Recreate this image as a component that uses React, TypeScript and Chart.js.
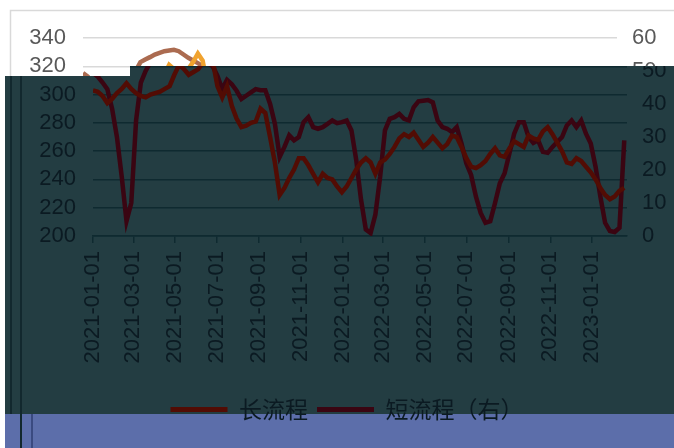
import React, { useEffect, useRef } from "react";
import { Chart, registerables } from "chart.js";

Chart.register(...registerables);

// ---------- data ----------
const START_DATE = "2021-01-01"; // weekly series, one point every 7 days
const AXIS_END_DAYS = 781;
const seriesNames = ["长流程", "短流程（右）"];
const tickLabels = [
  "2021-01-01", "2021-03-01", "2021-05-01", "2021-07-01", "2021-09-01", "2021-11-01",
  "2022-01-01", "2022-03-01", "2022-05-01", "2022-07-01", "2022-09-01", "2022-11-01",
  "2023-01-01",
];
const leftTicks = [200, 220, 240, 260, 280, 300, 320, 340];
const rightTicks = [0, 10, 20, 30, 40, 50, 60];

const longValues = [
  303, 302, 299, 294, 297, 301, 304, 308, 304, 301, 299, 298, 300, 301, 302, 304,
  306, 314, 321, 318, 314, 316, 318, 323, 329, 324, 306, 298, 306, 292, 283, 277,
  278, 280, 281, 290, 287, 270, 252, 229, 234, 241, 247, 255, 255, 250, 244, 238,
  244, 241, 240, 235, 231, 235, 241, 247, 252, 255, 252, 244, 252, 254, 258, 263,
  269, 272, 270, 273, 268, 263, 266, 270, 266, 262, 265, 271, 270, 263, 255, 249,
  248, 250, 253, 258, 262, 257, 256, 262, 267, 265, 263, 271, 269, 268, 274, 277,
  272, 266, 260, 252, 251, 255, 253, 249, 245, 240, 234, 229, 226, 228, 232, 234,
];
const shortValues = [
  49.4, 48.3, 46.5, 44.5, 38.5, 30, 18, 4.5, 10, 35, 46.5, 50, 52.7, 53.5, 54.2, 55,
  55.5, 56, 56.2, 56.4, 56, 55, 54, 53.2, 52.4, 51.5, 48.5, 44.5, 47.3, 46, 44, 41.5,
  42.5, 43.5, 44.5, 44.2, 44.2, 40, 34, 24, 27, 30.5, 29, 30, 34.5, 36, 33, 32.5,
  33, 34, 35, 34.2, 34.5, 35, 32, 23, 11, 2, 0.9, 6.5, 18, 32, 35.5, 36,
  37, 35.5, 35, 39, 40.8, 41, 41.2, 40.5, 35, 33, 32.5, 31.5, 33, 28, 22, 18.5,
  12, 7, 4, 4.5, 10, 16, 19, 25, 31, 34.5, 34.5, 30, 28.2, 29, 25.5, 25.2,
  27, 28.5, 30, 33.5, 35, 33, 35, 31, 28, 21, 12, 4, 1.5, 1.2, 2.5, 29,
];

// ---------- helpers ----------
const DAY = 86400000;
const startMs = Date.parse(START_DATE + "T00:00:00Z");
const dayOf = (s: string) => Math.round((Date.parse(s + "T00:00:00Z") - startMs) / DAY);
const tickDays = tickLabels.map(dayOf);
const labelByDay: Record<number, string> = {};
tickLabels.forEach((l, i) => (labelByDay[tickDays[i]] = l));

type Theme = {
  grid: string;
  text: string;
  longColor: string;
  shortColor: string;
  fill: string | null;
  frame: boolean;
};

const W = 674;
const H = 448;
const AXIS_FONT = { family: "'Liberation Sans', Arial, sans-serif", size: 22 };
const LEGEND_FONT = { family: "'Noto Sans CJK SC', sans-serif", size: 23 };

function buildConfig(t: Theme): any {
  const bgPlugin = {
    id: "bgPlugin",
    beforeDraw(chart: any) {
      const ctx = chart.ctx;
      ctx.save();
      if (t.fill) {
        ctx.fillStyle = t.fill;
        ctx.fillRect(0, 0, chart.width, chart.height);
      }
      if (t.frame) {
        ctx.strokeStyle = "#D9D9D9";
        ctx.lineWidth = 1.5;
        ctx.beginPath();
        ctx.moveTo(10.5, chart.height + 5);
        ctx.lineTo(10.5, 10.5);
        ctx.lineTo(chart.width + 5, 10.5);
        ctx.stroke();
      }
      ctx.restore();
    },
  };
  return {
    type: "line",
    data: {
      datasets: [
        {
          label: seriesNames[0],
          data: longValues.map((v, i) => ({ x: i * 7, y: v })),
          borderColor: t.longColor,
          backgroundColor: t.longColor,
          borderWidth: 4.5,
          pointRadius: 0,
          tension: 0,
          yAxisID: "y",
        },
        {
          label: seriesNames[1],
          data: shortValues.map((v, i) => ({ x: i * 7, y: v })),
          borderColor: t.shortColor,
          backgroundColor: t.shortColor,
          borderWidth: 4.5,
          pointRadius: 0,
          tension: 0,
          yAxisID: "y1",
        },
      ],
    },
    options: {
      animation: false,
      responsive: false,
      devicePixelRatio: 1,
      layout: { padding: { top: 38, bottom: 17, left: 0, right: 0 } },
      plugins: {
        tooltip: { enabled: false },
        legend: {
          position: "bottom",
          labels: {
            boxWidth: 57,
            boxHeight: 5,
            padding: 9,
            color: t.text,
            font: LEGEND_FONT,
            generateLabels: (chart: any) =>
              chart.data.datasets.map((ds: any, i: number) => ({
                text: ds.label,
                fillStyle: ds.borderColor,
                strokeStyle: ds.borderColor,
                lineWidth: 0,
                hidden: false,
                datasetIndex: i,
                fontColor: t.text,
              })),
          },
        },
      },
      scales: {
        x: {
          type: "linear",
          min: 0,
          max: AXIS_END_DAYS,
          afterBuildTicks: (s: any) => {
            s.ticks = tickDays.map((v) => ({ value: v }));
          },
          afterFit: (s: any) => {
            s.height = 153;
          },
          ticks: {
            autoSkip: false,
            minRotation: 90,
            maxRotation: 90,
            padding: 8,
            color: t.text,
            font: AXIS_FONT,
            callback: (v: any) => labelByDay[v as number] ?? "",
          },
          grid: {
            drawOnChartArea: false,
            drawTicks: true,
            tickLength: 7,
            color: t.grid,
            lineWidth: 1.5,
          },
          border: { display: true, color: t.grid, width: 1.5 },
        },
        y: {
          position: "left",
          min: leftTicks[0],
          max: leftTicks[leftTicks.length - 1],
          afterBuildTicks: (s: any) => {
            s.ticks = leftTicks.map((v) => ({ value: v }));
          },
          afterFit: (s: any) => {
            s.width = 83;
          },
          ticks: { autoSkip: false, padding: 17, color: t.text, font: AXIS_FONT },
          grid: { color: t.grid, lineWidth: 1.5, drawTicks: false },
          border: { display: false },
        },
        y1: {
          position: "right",
          min: rightTicks[0],
          max: rightTicks[rightTicks.length - 1],
          afterBuildTicks: (s: any) => {
            s.ticks = rightTicks.map((v) => ({ value: v }));
          },
          afterFit: (s: any) => {
            s.width = 57;
          },
          ticks: { autoSkip: false, padding: 15, color: t.text, font: AXIS_FONT },
          grid: { display: false, drawTicks: false },
          border: { display: false },
        },
      },
    },
    plugins: [bgPlugin],
  };
}

const baseTheme: Theme = {
  grid: "#D9D9D9",
  text: "#595959",
  longColor: "#F0A22E",
  shortColor: "#AB6B50",
  fill: "#FFFFFF",
  frame: true,
};

const tealTheme: Theme = {
  grid: "#0F2A30",
  text: "#0B1A22",
  longColor: "#520C04",
  shortColor: "#3A0512",
  fill: null,
  frame: false,
};

function ChartCanvas({ theme }: { theme: Theme }) {
  const ref = useRef<HTMLCanvasElement | null>(null);
  useEffect(() => {
    if (!ref.current) return;
    const chart = new Chart(ref.current, buildConfig(theme));
    return () => chart.destroy();
  }, [theme]);
  return <canvas ref={ref} width={W} height={H} style={{ width: W, height: H, display: "block" }} />;
}

export default function App() {
  const tealClip =
    "polygon(5px 76px, 130px 76px, 130px 66px, 674px 66px, 674px 448px, 5px 448px)";
  return (
    <div
      style={{
        position: "fixed",
        left: 0,
        top: 0,
        width: W,
        height: H,
        overflow: "hidden",
        background: "#FFFFFF",
      }}
    >
      <div style={{ position: "absolute", left: 0, top: 0 }}>
        <ChartCanvas theme={baseTheme} />
      </div>
      <div
        style={{
          position: "absolute",
          left: 0,
          top: 0,
          width: W,
          height: H,
          overflow: "hidden",
          clipPath: tealClip,
          background: "linear-gradient(to bottom, #233D42 0px, #233D42 414px, #5C6EAA 414px, #5C6EAA 448px)",
        }}
      >
        <div style={{ position: "absolute", left: 10, top: 0 }}>
          <ChartCanvas theme={tealTheme} />
        </div>
        <div style={{ position: "absolute", left: 10, top: 0, width: 1.5, height: 414, background: "#12282E" }} />
        <div style={{ position: "absolute", left: 20, top: 0, width: 1.5, height: 448, background: "#12282E" }} />
        <div style={{ position: "absolute", left: 31, top: 414, width: 1.5, height: 34, background: "#3A4A80" }} />
      </div>
    </div>
  );
}
